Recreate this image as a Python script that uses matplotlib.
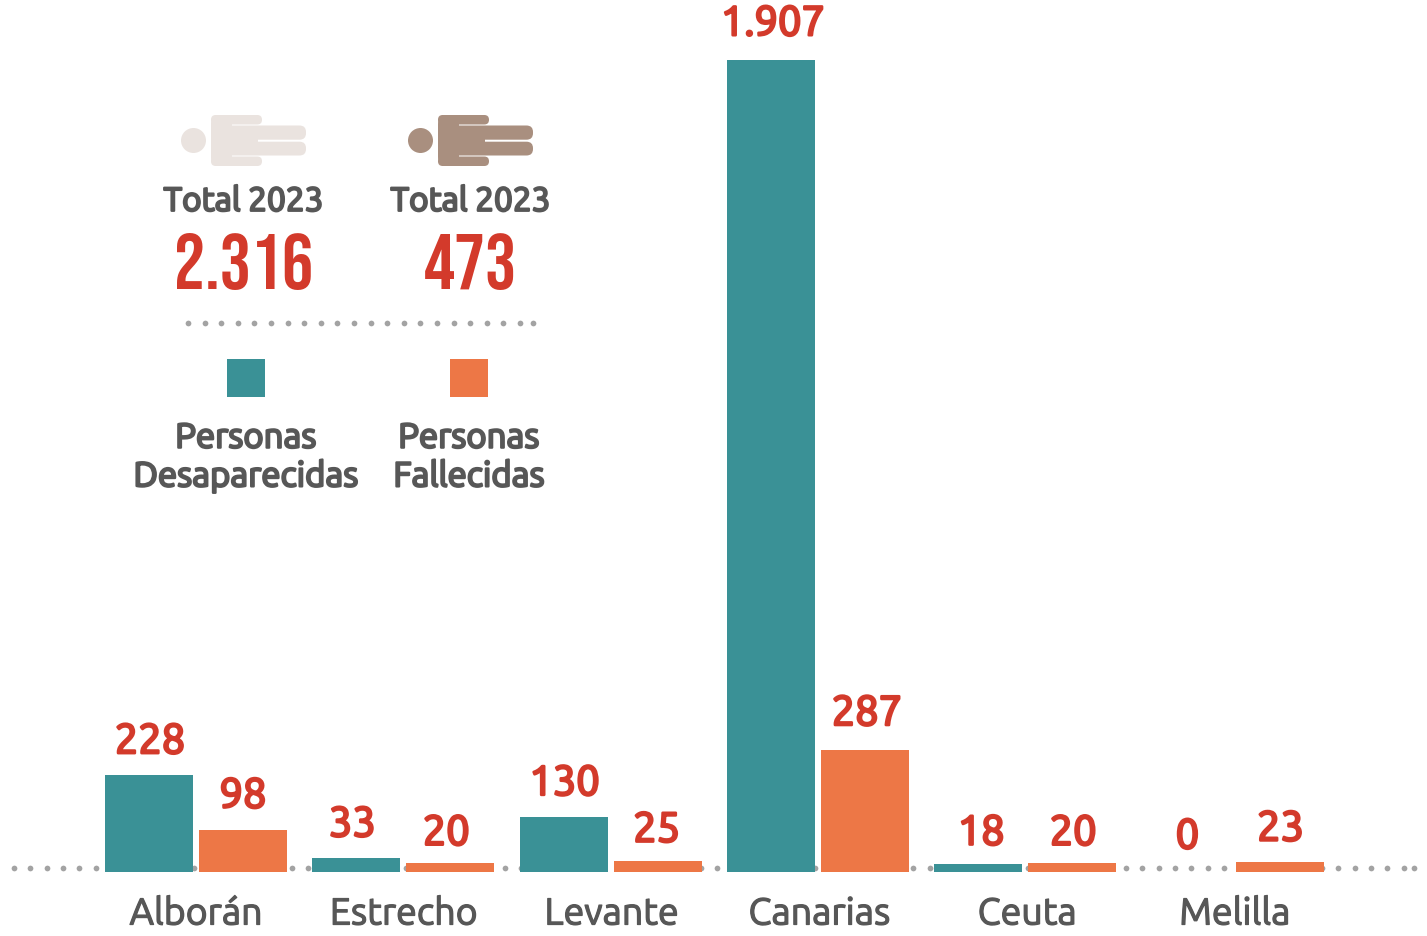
import numpy as np
import matplotlib
matplotlib.use("Agg")
import matplotlib.pyplot as plt
import matplotlib.patheffects as pe
from matplotlib.patches import Circle, FancyBboxPatch, Rectangle

# ---------- data ----------
categories = ["Alborán", "Estrecho", "Levante", "Canarias", "Ceuta", "Melilla"]
desaparecidas = [228, 33, 130, 1907, 18, 0]
fallecidas = [98, 20, 25, 287, 20, 23]
value_labels_d = ["228", "33", "130", "1.907", "18", "0"]
value_labels_f = ["98", "20", "25", "287", "20", "23"]
totals = ["2.316", "473"]
total_title = "Total 2023"
legend_names = ["Personas\nDesaparecidas", "Personas\nFallecidas"]

# ---------- style ----------
TEAL, ORANGE, RED, GREY, DOT = "#3A9196", "#ED7746", "#D33A2B", "#575757", "#A3A3A3"
ICON_LIGHT, ICON_DARK = "#EAE3DF", "#A98F7F"
W, H = 1427, 937
BASE_PX = 873
SANS = ["Ubuntu", "Open Sans", "DejaVu Sans"]
BIG = ["Bebas Neue", "Liberation Sans", "DejaVu Sans"]


def heavy(color, width):
    """The installed Ubuntu only renders light, so thicken it with a stroke."""
    return [pe.withStroke(linewidth=width, foreground=color)]


fig = plt.figure(figsize=(W / 100, H / 100), dpi=100, facecolor="white")

# pixel-space backdrop for the decorations
bg = fig.add_axes([0, 0, 1, 1], zorder=0)
bg.set_xlim(0, W)
bg.set_ylim(H - 1, -1)
bg.axis("off")

# main bar axes: bottom edge sits on the baseline
ax = fig.add_axes([0, (H - BASE_PX) / H, 1, BASE_PX / H], zorder=1)
ax.patch.set_alpha(0)
px_per_unit = 812 / 1907
spacing = 207.3
ax.set_xlim(-196 / spacing, (W - 196) / spacing)
ax.set_ylim(0, BASE_PX / px_per_unit)
for s in ax.spines.values():
    s.set_visible(False)
ax.set_yticks([])

x = np.arange(len(categories))
bw, off = 88 / spacing, 47 / spacing
ax.bar(x - off, desaparecidas, bw, color=TEAL)
ax.bar(x + off, fallecidas, bw, color=ORANGE)

ax.set_xticks(x * 1.0024, categories, fontfamily=SANS, fontsize=27, color=GREY)
ax.tick_params(axis="x", length=0, pad=16.5)
for t in ax.get_xticklabels():
    t.set_path_effects(heavy(GREY, 0.9))

shift_d = [(1, 38), (-4, 38), (1, 38), (2, 41), (3, 36), (2, 40)]
shift_f = [(0, 39), (-4, 35), (-1, 36), (2, 41), (1, 35), (1, 38)]
for xs, vals, labs, shifts in [(x - off, desaparecidas, value_labels_d, shift_d),
                               (x + off, fallecidas, value_labels_f, shift_f)]:
    for xi, v, lab, (dx, dy) in zip(xs, vals, labs, shifts):
        ax.annotate(lab, (xi, v), xytext=(dx, dy), textcoords="offset pixels",
                    ha="center", va="center_baseline", color=RED, fontsize=30,
                    fontfamily=SANS, annotation_clip=False,
                    path_effects=heavy(RED, 1.8))

# dotted rules
bg.scatter(np.arange(14, 1420, 16.35), np.full(86, 868), s=17, color=DOT, lw=0)
bg.scatter([1414], [868], s=17, color=DOT, lw=0)
bg.scatter(np.arange(188, 530, 16.6), np.full(21, 323), s=17, color=DOT, lw=0)
bg.scatter([533], [323], s=17, color=DOT, lw=0)


def pill(x0, y0, x1, y1, r, color):
    bg.add_patch(FancyBboxPatch((x0 + r, y0 + r), x1 - x0 - 2 * r, y1 - y0 - 2 * r,
                                boxstyle=f"round,pad={r},rounding_size={r}",
                                fc=color, ec="none"))


def person(dx, color):
    bg.add_patch(Circle((193.5 + dx, 140.5), 12.5, fc=color, ec="none"))
    pill(211 + dx, 115, 262 + dx, 124.5, 4.7, color)    # upper arm
    pill(211 + dx, 156.5, 262 + dx, 166, 4.7, color)    # lower arm
    pill(211 + dx, 115, 232 + dx, 166, 9, color)        # shoulders
    pill(225 + dx, 125.5, 306 + dx, 139.7, 6.5, color)  # upper leg
    pill(225 + dx, 141.7, 306 + dx, 155.5, 6.5, color)  # lower leg
    bg.add_patch(Rectangle((225 + dx, 126), 33, 29, fc=color, ec="none"))


person(0, ICON_LIGHT)
person(227, ICON_DARK)

for cx, total in zip((243.5, 470.5), totals):
    bg.text(cx, 200.5, total_title, ha="center", va="center", fontfamily=SANS,
            fontsize=24, color=GREY, path_effects=heavy(GREY, 1.6))
    bg.text(cx, 260.5, total, ha="center", va="center", fontfamily=BIG,
            fontsize=56, color=RED)

for cx, swatch, name in zip((246, 469), (TEAL, ORANGE), legend_names):
    bg.add_patch(Rectangle((cx - 19, 359), 38, 38, fc=swatch, ec="none"))
    bg.text(cx, 456.5, name, ha="center", va="center", fontfamily=SANS, fontsize=25,
            color=GREY, linespacing=1.13, multialignment="center",
            path_effects=heavy(GREY, 1.6))

fig.savefig("out.png", dpi=100, facecolor="white")
